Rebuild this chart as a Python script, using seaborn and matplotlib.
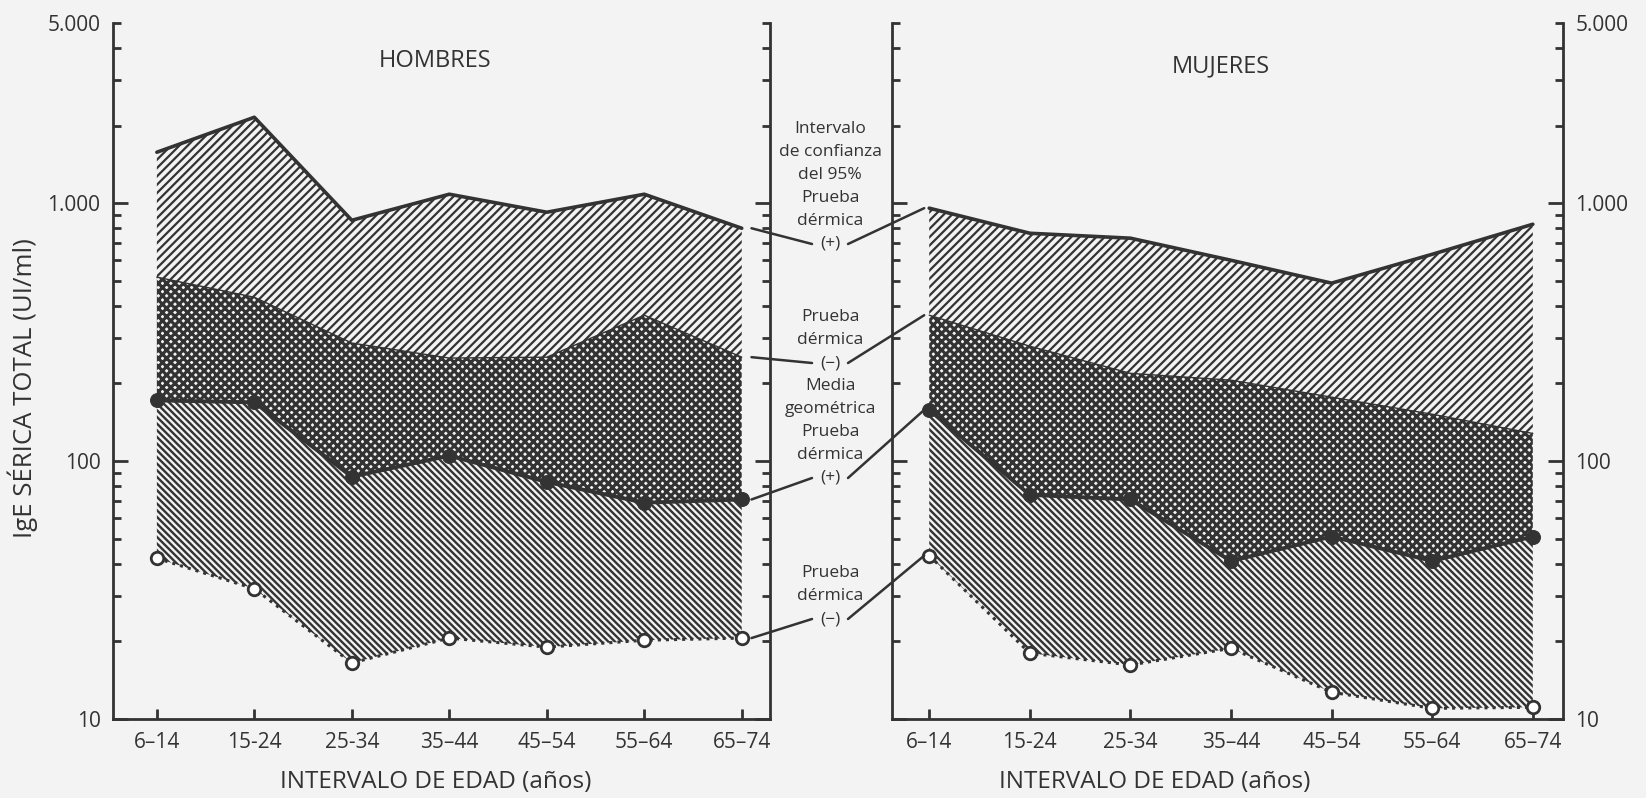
import numpy as np
import seaborn as sns
import matplotlib.pyplot as plt
from matplotlib.patches import ConnectionPatch
from matplotlib.ticker import FixedLocator, LogLocator, FuncFormatter

# age groups (x categories)
ages = ["6–14", "15-24", "25-34", "35–44", "45–54", "55–64", "65–74"]

# HOMBRES, IgE (UI/ml)
hom_ic_pos = [1577, 2155, 859, 1084, 923, 1084, 800]    # upper 95% CI, skin test (+)
hom_ic_neg = [517, 432, 287, 251, 253, 368, 253]        # upper 95% CI, skin test (-)
hom_media_pos = [172, 169, 87, 105, 83, 69, 71]         # geometric mean, skin test (+)
hom_media_neg = [42, 32, 16.5, 20.6, 19.0, 20.2, 20.6]  # geometric mean, skin test (-)

# MUJERES
muj_ic_pos = [957, 765, 732, 601, 490, 634, 829]
muj_ic_neg = [368, 279, 219, 206, 177, 152, 128]
muj_media_pos = [158, 74, 71, 41, 51, 41, 51]
muj_media_neg = [43, 18, 16.2, 18.8, 12.7, 11.0, 11.1]

INK = "#333333"
PAPER = "#f3f3f3"
W, H = 1646, 798

sns.set_style("ticks")
plt.rcParams["font.family"] = ["Open Sans", "DejaVu Sans"]
plt.rcParams["text.color"] = INK

fig = plt.figure(figsize=(W / 100, H / 100), dpi=100, facecolor=PAPER)
axL = fig.add_axes([113 / W, 1 - 719 / H, 657 / W, 696 / H])
axR = fig.add_axes([892 / W, 1 - 719 / H, 671 / W, 696 / H])


def fmt(v, pos):
    return f"{int(v):,}".replace(",", ".")


def draw_panel(ax, ic_pos, ic_neg, m_pos, m_neg, title, title_xy, side, xlim):
    x = np.arange(len(ages))
    ax.set_facecolor("none")
    with plt.rc_context({"hatch.linewidth": 1.6}):
        ax.fill_between(x, ic_neg, ic_pos, facecolor="none", edgecolor=INK, hatch="////", linewidth=0)
    with plt.rc_context({"hatch.linewidth": 2.25}):
        ax.fill_between(x, m_pos, ic_neg, facecolor="none", edgecolor=INK, hatch="xxxx", linewidth=0)
    with plt.rc_context({"hatch.linewidth": 1.7}):
        ax.fill_between(x, m_neg, m_pos, facecolor="none", edgecolor=INK, hatch="\\" * 5, linewidth=0)

    sns.lineplot(x=x, y=ic_pos, ax=ax, color=INK, lw=2.6)
    sns.lineplot(x=x, y=ic_neg, ax=ax, color=INK, lw=1.0)
    sns.lineplot(x=x, y=m_pos, ax=ax, color=INK, lw=2.8, marker="o", markersize=10,
                 markeredgecolor=INK)
    sns.lineplot(x=x, y=m_neg, ax=ax, color=INK, lw=2.2, linestyle=":", marker="o",
                 markersize=9, markerfacecolor="white", markeredgecolor=INK, markeredgewidth=2.0)

    ax.set_yscale("log")
    ax.set_ylim(10, 5000)
    ax.set_xlim(*xlim)
    ax.set_xticks(x)
    ax.set_xticklabels(ages)
    ax.yaxis.set_major_locator(FixedLocator([10, 100, 1000]))
    ax.yaxis.set_major_formatter(FuncFormatter(fmt))
    ax.yaxis.set_minor_locator(LogLocator(base=10, subs=np.arange(2, 10)))
    ax.yaxis.set_minor_formatter(FuncFormatter(lambda v, p: "5.000" if abs(v - 5000) < 1 else ""))
    ax.set_xlabel("")
    ax.set_ylabel("")

    for s in ["left", "right", "bottom"]:
        ax.spines[s].set_visible(True)
        ax.spines[s].set_linewidth(2.0)
        ax.spines[s].set_color(INK)
    ax.spines["top"].set_visible(False)

    ax.tick_params(axis="y", which="both", direction="in", left=True, right=True,
                   color=INK, width=2.0, labelsize=15, labelcolor=INK, pad=9,
                   labelleft=(side == "left"), labelright=(side == "right"))
    ax.tick_params(axis="y", which="major", length=11)
    ax.tick_params(axis="y", which="minor", length=6)
    ax.tick_params(axis="x", direction="in", length=7, width=2.0, color=INK,
                   labelsize=15, labelcolor=INK, pad=9)
    ax.text(*title_xy, title, transform=ax.transAxes, ha="center", va="center",
            fontsize=17, color=INK)


draw_panel(axL, hom_ic_pos, hom_ic_neg, hom_media_pos, hom_media_neg, "HOMBRES", (0.49, 0.945),
           "left", (-0.45, 6.29))
draw_panel(axR, muj_ic_pos, muj_ic_neg, muj_media_pos, muj_media_neg, "MUJERES", (0.49, 0.937),
           "right", (-0.37, 6.30))

fig.text(23 / W, 1 - 388 / H, "IgE SÉRICA TOTAL (UI/ml)", rotation=90, ha="center", va="center",
         fontsize=18.5, color=INK)
fig.text(436 / W, 1 - 782 / H, "INTERVALO DE EDAD (años)", ha="center", va="center", fontsize=17.5, color=INK)
fig.text(1155 / W, 1 - 782 / H, "INTERVALO DE EDAD (años)", ha="center", va="center", fontsize=17.5, color=INK)

# middle key
blocks = [
    (129, ["Intervalo", "de confianza", "del 95%", "Prueba", "dérmica", "(+)"]),
    (317, ["Prueba", "dérmica", "(−)", "Media", "geométrica", "Prueba", "dérmica", "(+)"]),
    (573, ["Prueba", "dérmica", "(−)"]),
]
for y0, lines in blocks:
    for i, t in enumerate(lines):
        fig.text(830 / W, 1 - (y0 + 23 * i) / H, t, ha="center", va="center", fontsize=12.5, color=INK)

# leader lines: (series L, series R, text line y)
leaders = [
    (hom_ic_pos[-1], muj_ic_pos[0], 244),
    (hom_ic_neg[-1], muj_ic_neg[0], 363),
    (hom_media_pos[-1], muj_media_pos[0], 478),
    (hom_media_neg[-1], muj_media_neg[0], 619),
]
for vL, vR, ty in leaders:
    fig.add_artist(ConnectionPatch(xyA=(6.1, vL), coordsA=axL.transData,
                                   xyB=(812 / W, 1 - ty / H), coordsB=fig.transFigure,
                                   color=INK, lw=1.8))
    fig.add_artist(ConnectionPatch(xyA=(848 / W, 1 - ty / H), coordsA=fig.transFigure,
                                   xyB=(-0.05, vR), coordsB=axR.transData,
                                   color=INK, lw=1.8))

fig.savefig("out.png", dpi=100, facecolor=PAPER)
